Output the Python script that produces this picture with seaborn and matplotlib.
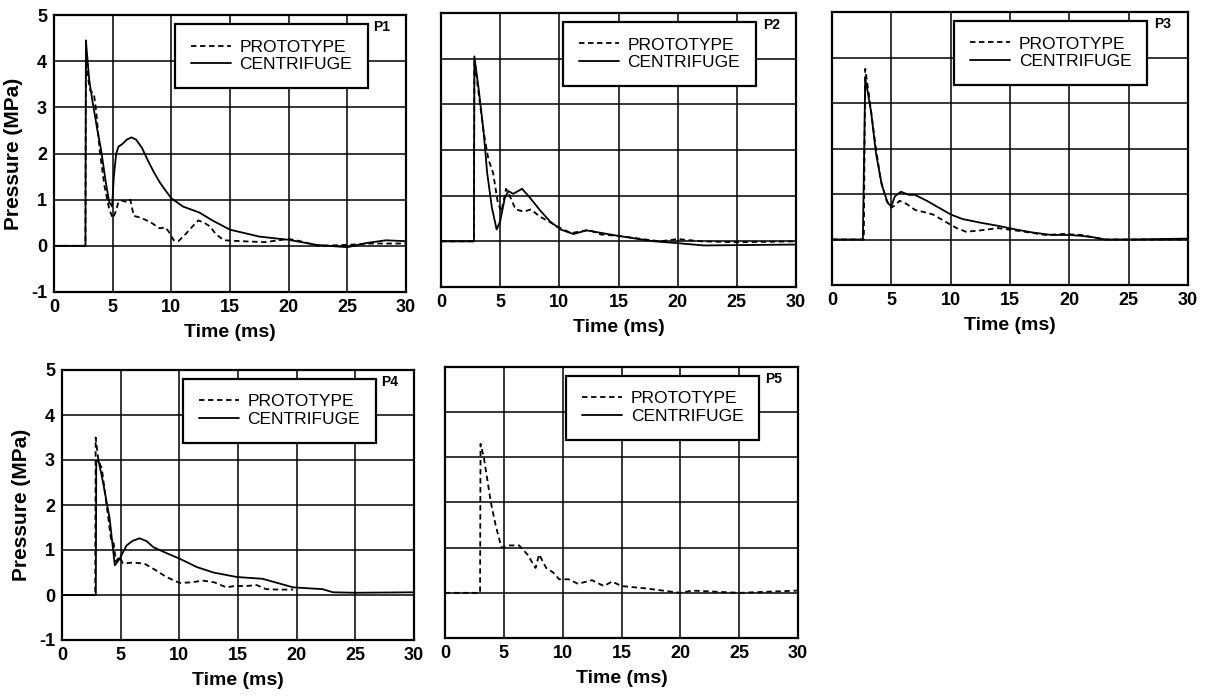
import matplotlib
matplotlib.use("Agg")
import matplotlib.pyplot as plt
import seaborn as sns

# ---------------------------------------------------------------------------
# Data (time in ms, pressure in MPa)
# ---------------------------------------------------------------------------
p1_t_cent = [0, 2.68, 2.72, 2.8, 3.0, 3.3, 3.7, 4.0, 4.4, 4.7, 4.95, 5.1, 5.3, 5.5, 5.8, 6.2, 6.6, 7.0,
             7.5, 8.0, 8.5, 9.0, 9.5, 10, 11, 12.4, 13.5, 15, 17.5, 20, 22.4, 25, 26.6, 28.3, 30]
p1_cent = [0, 0, 4.45, 4.2, 3.6, 3.1, 2.5, 2.1, 1.4, 0.95, 0.85, 1.5, 2.0, 2.15, 2.2, 2.3, 2.35, 2.3,
           2.12, 1.85, 1.6, 1.38, 1.2, 1.03, 0.85, 0.72, 0.55, 0.35, 0.2, 0.13, 0.02, -0.03, 0.06, 0.12, 0.1]
p1_t_proto = [0, 2.68, 2.72, 2.85, 3.1, 3.4, 3.6, 3.9, 4.3, 4.7, 5.0, 5.2, 5.5, 5.8, 6.2, 6.5, 6.8, 7.5,
              8.3, 9.0, 9.5, 9.8, 10.2, 10.6, 11.2, 11.8, 12.3, 12.8, 13.3, 13.8, 14.5, 16, 18, 20, 21,
              22.5, 25, 27, 30]
p1_proto = [0, 0, 4.0, 3.7, 3.35, 3.3, 2.9, 2.05, 1.3, 0.8, 0.6, 0.7, 0.95, 0.98, 0.95, 1.0, 0.65, 0.6,
            0.5, 0.38, 0.4, 0.3, 0.12, 0.1, 0.25, 0.42, 0.55, 0.5, 0.42, 0.25, 0.12, 0.1, 0.08, 0.15, 0.1,
            0.0, 0.02, 0.05, 0.05]

p2_t_cent = [0, 2.78, 2.82, 3.2, 3.6, 3.9, 4.3, 4.7, 5.0, 5.4, 5.7, 6.1, 6.85, 7.5, 8.4, 9.2, 10.1, 11.2,
             12.3, 15.2, 18, 20, 22.2, 30]
p2_cent = [0, 0, 4.05, 3.3, 2.4, 1.5, 0.74, 0.26, 0.44, 0.96, 1.1, 1.04, 1.15, 0.96, 0.67, 0.44, 0.26,
           0.16, 0.24, 0.11, 0.0, -0.04, -0.09, -0.07]
p2_t_proto = [0, 2.78, 2.82, 3.2, 3.6, 4.0, 4.4, 4.8, 5.1, 5.5, 5.8, 6.3, 7.0, 7.6, 8.3, 9, 10, 11, 12.5,
              13.5, 15, 17, 18.5, 20, 22, 25, 30]
p2_proto = [0, 0, 3.96, 3.2, 2.4, 1.8, 1.5, 0.85, 0.65, 1.15, 1.0, 0.7, 0.65, 0.7, 0.55, 0.45, 0.3, 0.18,
            0.25, 0.15, 0.12, 0.05, 0.0, 0.05, 0.0, -0.02, 0.0]

p3_t_cent = [0, 2.6, 2.8, 3.3, 3.7, 4.2, 4.7, 5.0, 5.3, 5.8, 6.5, 7.0, 8, 9, 10, 11, 12.5, 14, 15.5, 17,
             18.5, 20, 21, 22, 23, 25, 30]
p3_cent = [0, 0, 3.55, 2.8, 1.9, 1.2, 0.8, 0.73, 0.95, 1.05, 0.98, 0.98, 0.85, 0.7, 0.55, 0.45, 0.37,
           0.3, 0.22, 0.15, 0.1, 0.1, 0.08, 0.05, 0.0, 0.0, 0.02]
p3_t_proto = [0, 2.68, 2.8, 3.1, 3.6, 4.1, 4.6, 5.0, 5.3, 5.7, 6.3, 7.0, 7.8, 8.5, 9.5, 10.5, 11.3, 12.5,
              14, 16, 18, 19.5, 21, 23, 30]
p3_proto = [0, 0, 3.75, 3.2, 2.2, 1.3, 0.85, 0.7, 0.75, 0.85, 0.78, 0.65, 0.6, 0.55, 0.4, 0.25, 0.17,
            0.2, 0.25, 0.18, 0.1, 0.12, 0.1, 0.0, 0.0]

p4_t_cent = [0, 2.88, 2.92, 3.1, 3.5, 4.06, 4.5, 4.9, 5.5, 6.0, 6.6, 7.2, 7.8, 9.0, 10, 11.5, 12.9, 14.9,
             17.1, 19.7, 22.2, 23.1, 25, 30]
p4_cent = [0, 0, 2.95, 3.0, 2.5, 1.7, 0.66, 0.8, 1.1, 1.2, 1.26, 1.2, 1.06, 0.92, 0.81, 0.62, 0.5, 0.4,
           0.36, 0.17, 0.13, 0.06, 0.05, 0.06]
p4_t_proto = [0, 2.83, 2.87, 3.1, 3.4, 3.8, 4.2, 4.4, 4.6, 4.9, 5.2, 6, 7, 7.8, 8.9, 10, 11, 12, 13, 14,
              14.7, 15.7, 16.6, 17.4, 18.5, 19.7]
p4_proto = [0, 0, 3.5, 3.0, 2.8, 2.0, 1.2, 1.15, 0.75, 0.85, 0.7, 0.72, 0.7, 0.58, 0.4, 0.27, 0.28, 0.32,
            0.28, 0.17, 0.2, 0.2, 0.22, 0.13, 0.12, 0.12]

p5_t_proto = [0, 2.98, 3.02, 3.3, 3.9, 4.3, 4.8, 5.5, 6.3, 7.0, 7.7, 8.0, 8.6, 9.2, 9.7, 10.5, 11.3, 12.5,
              13.5, 14.2, 15, 17, 20, 21, 25, 30]
p5_proto = [0, 0, 3.3, 3.0, 2.0, 1.5, 1.0, 1.05, 1.05, 0.85, 0.55, 0.85, 0.55, 0.45, 0.3, 0.3, 0.2, 0.28,
            0.15, 0.25, 0.15, 0.1, 0.0, 0.05, 0.0, 0.05]

panels = [
    # name, axes rect in pixels (left, top, right, bottom), y labels shown
    ("P1", (54, 15, 406, 292), True, (p1_t_proto, p1_proto), (p1_t_cent, p1_cent)),
    ("P2", (441, 13, 796, 287), False, (p2_t_proto, p2_proto), (p2_t_cent, p2_cent)),
    ("P3", (832, 12, 1188, 285), False, (p3_t_proto, p3_proto), (p3_t_cent, p3_cent)),
    ("P4", (62, 370, 414, 640), True, (p4_t_proto, p4_proto), (p4_t_cent, p4_cent)),
    ("P5", (445, 367, 798, 638), False, (p5_t_proto, p5_proto), None),
]

sns.set_style("white")
plt.rcParams["font.family"] = ["Liberation Sans", "DejaVu Sans"]
plt.rcParams["axes.unicode_minus"] = False
for key in ("text.color", "axes.labelcolor", "xtick.color", "ytick.color"):
    plt.rcParams[key] = "black"

W, H = 1209, 696
fig = plt.figure(figsize=(W / 100, H / 100), dpi=100)

for name, (l, t, r, b), show_y, proto, cent in panels:
    ax = fig.add_axes([l / W, 1 - b / H, (r - l) / W, (b - t) / H])
    ax.set_axisbelow(True)
    ax.grid(True, color="black", linewidth=1.1)
    for s in ax.spines.values():
        s.set_color("black")
        s.set_linewidth(1.6)

    sns.lineplot(x=proto[0], y=proto[1], ax=ax, color="black", linewidth=1.3,
                 linestyle=(0, (3, 2)), label="PROTOTYPE", estimator=None, sort=False)
    if cent is not None:
        sns.lineplot(x=cent[0], y=cent[1], ax=ax, color="black", linewidth=1.3,
                     label="CENTRIFUGE", estimator=None, sort=False)
    else:
        # legend still lists both traces, as in the original figure
        ax.plot([], [], color="black", linewidth=1.3, label="CENTRIFUGE")

    ax.set_xlim(0, 30)
    ax.set_ylim(-1, 5)
    ax.set_xticks(range(0, 31, 5))
    ax.set_yticks(range(-1, 6))
    ax.tick_params(length=0, labelsize=13, pad=5)
    for lab in ax.get_xticklabels() + ax.get_yticklabels():
        lab.set_fontweight("bold")
    if show_y:
        ax.set_ylabel("Pressure (MPa)", fontsize=15, fontweight="bold", labelpad=6)
    else:
        ax.set_yticklabels([])
        ax.set_ylabel("")
    ax.set_xlabel("Time (ms)", fontsize=14, fontweight="bold", labelpad=6)

    leg = ax.legend(loc="upper left", bbox_to_anchor=(0.344, 0.968), fontsize=12.5,
                    frameon=True, fancybox=False, framealpha=1, edgecolor="black",
                    borderpad=0.9, labelspacing=0.15, handlelength=2.3, handletextpad=0.5,
                    borderaxespad=0)
    leg.get_frame().set_linewidth(1.6)

    ax.text(0.93, 0.955, name, transform=ax.transAxes, fontsize=10, fontweight="bold",
            ha="center", va="center")

fig.savefig("out.png", dpi=100)
